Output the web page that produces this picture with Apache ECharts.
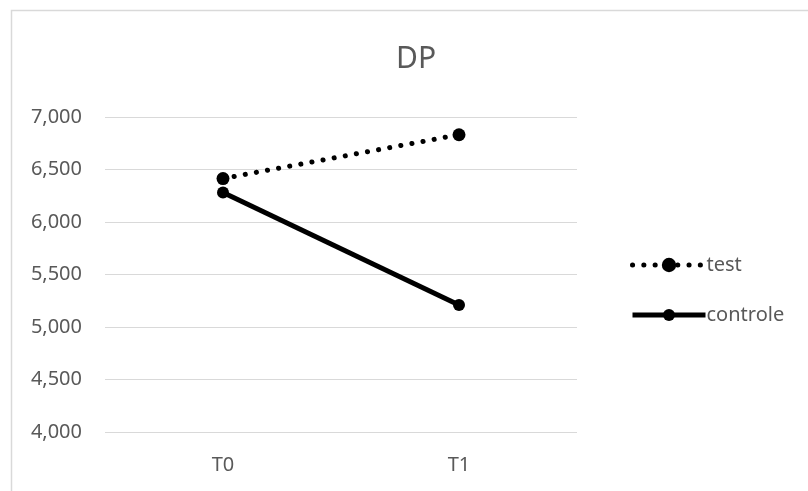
<!DOCTYPE html>
<html>
<head>
<meta charset="utf-8">
<script src="https://cdn.jsdelivr.net/npm/echarts@6/dist/echarts.min.js"></script>
<style>
html,body{margin:0;padding:0;background:#fff;}
#c{width:808px;height:491px;}
</style>
</head>
<body>
<div id="c"></div>
<script>
var categories = ['T0', 'T1'];
var testValues = [6414, 6831];
var controleValues = [6280, 5210];
var yTicks = [4000, 4500, 5000, 5500, 6000, 6500, 7000];
var titleText = 'DP';
var seriesNames = ['test', 'controle'];

var chart = echarts.init(document.getElementById('c'), null, {renderer: 'canvas'});
var font = 'Noto Sans';
var gray = '#595959';
var dotted = [0.1, 11.2];
var legendText = {fontFamily: font, fontSize: 20, color: gray, padding: [0, 0, 0, -4]};
chart.setOption({
  animation: false,
  backgroundColor: '#fff',
  graphic: [{
    type: 'rect', left: 9, top: 8,
    shape: {width: 900, height: 600},
    style: {fill: 'none', stroke: '#d9d9d9', lineWidth: 1.5},
    silent: true, z: -1
  }],
  title: {
    text: titleText, left: 391, top: 39,
    textStyle: {fontFamily: font, fontSize: 30, fontWeight: 'normal', color: gray}
  },
  grid: {left: 105, right: 231, top: 117, bottom: 59, containLabel: false},
  legend: [{
    orient: 'vertical', left: 625, top: 250,
    itemWidth: 73, itemHeight: 18,
    textStyle: legendText,
    data: [{name: seriesNames[0], lineStyle: {width: 5, type: dotted, cap: 'round', color: '#000'}}]
  }, {
    orient: 'vertical', left: 625, top: 300,
    itemWidth: 73, itemHeight: 15,
    textStyle: legendText,
    data: [{name: seriesNames[1], lineStyle: {width: 5, type: 'solid', color: '#000'}}]
  }],
  xAxis: {
    type: 'category', data: categories, boundaryGap: true,
    axisLine: {show: false}, axisTick: {show: false},
    axisLabel: {fontFamily: font, fontSize: 20, color: gray, margin: 23}
  },
  yAxis: {
    type: 'value', min: yTicks[0], max: yTicks[yTicks.length - 1], interval: 500,
    axisLine: {show: false}, axisTick: {show: false},
    splitLine: {lineStyle: {color: '#d9d9d9', width: 1}},
    axisLabel: {
      fontFamily: font, fontSize: 20, color: gray, margin: 23,
      formatter: function (v) { return v.toLocaleString('en-US'); }
    }
  },
  series: [{
    name: seriesNames[0], type: 'line', data: testValues,
    symbol: 'circle', symbolSize: 13,
    itemStyle: {color: '#000'},
    lineStyle: {color: '#000', width: 5, type: dotted, cap: 'round'},
    z: 3
  }, {
    name: seriesNames[1], type: 'line', data: controleValues,
    symbol: 'circle', symbolSize: 12,
    itemStyle: {color: '#000'},
    lineStyle: {color: '#000', width: 5, type: 'solid'},
    z: 2
  }]
});
</script>
</body>
</html>
